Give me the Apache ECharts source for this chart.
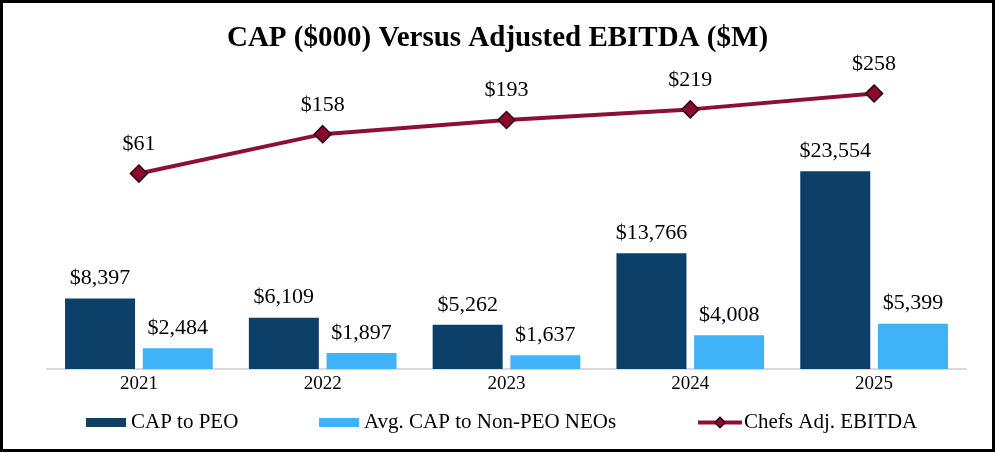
<!DOCTYPE html>
<html>
<head>
<meta charset="utf-8">
<script src="https://cdn.jsdelivr.net/npm/echarts@6/dist/echarts.min.js"></script>
<style>
html,body{margin:0;padding:0;background:#fff;}
#c{width:995px;height:452px;}
</style>
</head>
<body>
<div id="c"></div>
<script>
const categories = ['2021', '2022', '2023', '2024', '2025'];
const capToPEO = [8397, 6109, 5262, 13766, 23554];
const avgCapNonPEO = [2484, 1897, 1637, 4008, 5399];
const adjEBITDA = [61, 158, 193, 219, 258];

const serif = '"Liberation Serif", "Times New Roman", serif';
const money = v => '$' + Number(v).toLocaleString('en-US');
const legendText = { fontFamily: serif, fontSize: 21, color: '#000' };

const chart = echarts.init(document.getElementById('c'));
chart.setOption({
  animation: false,
  backgroundColor: '#fff',
  textStyle: { fontFamily: serif },
  title: {
    text: 'CAP ($000) Versus Adjusted EBITDA ($M)',
    left: 'center',
    top: 19,
    textStyle: { fontFamily: serif, fontWeight: 'bold', fontSize: 29, color: '#000' }
  },
  graphic: [{
    type: 'rect',
    shape: { x: 1.5, y: 1.5, width: 992, height: 449 },
    style: { fill: 'none', stroke: '#000', lineWidth: 3 },
    silent: true
  }],
  legend: [
    { data: [{ name: 'CAP to PEO', icon: 'rect' }], left: 81, top: 407, itemWidth: 40, itemHeight: 9, textStyle: legendText },
    { data: [{ name: 'Avg. CAP to Non-PEO NEOs', icon: 'rect' }], left: 314, top: 407, itemWidth: 40, itemHeight: 9, textStyle: legendText },
    { data: ['Chefs Adj. EBITDA'], left: 691, top: 407, itemWidth: 44, itemHeight: 13,
      lineStyle: { width: 4, color: '#8C1036' },
      itemStyle: { color: '#8C0A30', borderColor: '#2a0010', borderWidth: 1.5 },
      textStyle: Object.assign({}, legendText, { padding: [0, 0, 0, -3] }) }
  ],
  grid: { left: 47, right: 29, top: 33, bottom: 83 },
  xAxis: {
    type: 'category',
    data: categories,
    axisLine: { lineStyle: { color: '#D9D9D9', width: 2 } },
    axisTick: { show: false },
    axisLabel: { fontFamily: serif, fontSize: 19, color: '#000', margin: 6 }
  },
  yAxis: [
    { type: 'value', min: 0, max: 40000, show: false, splitLine: { show: false } },
    { type: 'value', min: -420, max: 407, show: false, splitLine: { show: false } }
  ],
  series: [
    {
      name: 'CAP to PEO', type: 'bar', data: capToPEO, barWidth: 70, barGap: '11%',
      itemStyle: { color: '#0C4068' },
      label: { show: true, position: 'top', distance: 9, formatter: p => money(p.value),
        fontFamily: serif, fontSize: 22, color: '#000' }
    },
    {
      name: 'Avg. CAP to Non-PEO NEOs', type: 'bar', data: avgCapNonPEO, barWidth: 70,
      itemStyle: { color: '#3FB2F8' },
      label: { show: true, position: 'top', distance: 9, formatter: p => money(p.value),
        fontFamily: serif, fontSize: 22, color: '#000' }
    },
    {
      name: 'Chefs Adj. EBITDA', type: 'line', yAxisIndex: 1, data: adjEBITDA,
      symbol: 'diamond', symbolSize: 17,
      lineStyle: { color: '#8C1036', width: 4 },
      itemStyle: { color: '#8C0A30', borderColor: '#2a0010', borderWidth: 1.5 },
      label: { show: true, position: 'top', distance: 9, formatter: p => money(p.value),
        fontFamily: serif, fontSize: 22, color: '#000' }
    }
  ]
});
</script>
</body>
</html>
